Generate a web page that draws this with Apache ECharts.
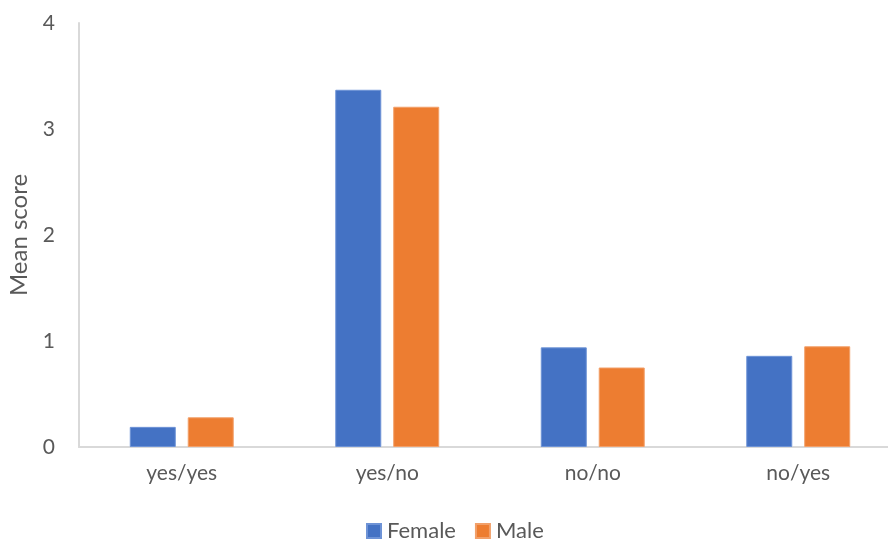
<!DOCTYPE html>
<html>
<head>
<meta charset="utf-8">
<script src="https://cdn.jsdelivr.net/npm/echarts@6/dist/echarts.min.js"></script>
<style>
  html, body { margin: 0; padding: 0; background: #fff; }
  #chart { width: 888px; height: 540px; }
</style>
</head>
<body>
<div id="chart"></div>
<script>
// Mean score by group and sex
const categories = ['yes/yes', 'yes/no', 'no/no', 'no/yes'];
const femaleValues = [0.19, 3.37, 0.94, 0.86];
const maleValues = [0.28, 3.21, 0.75, 0.95];
const yTicks = [0, 1, 2, 3, 4];

const textColor = '#595959';
const fontFamily = 'Lato, "Open Sans", sans-serif';

const chart = echarts.init(document.getElementById('chart'));
chart.setOption({
  animation: false,
  textStyle: { fontFamily: fontFamily },
  // plot area runs a little past the right edge of the canvas
  grid: { left: 79, width: 822, top: 23, height: 424, outerBoundsMode: 'none', containLabel: false },
  legend: {
    left: 361,
    top: 515,
    itemWidth: 14,
    itemHeight: 14,
    itemGap: 19,
    icon: 'rect',
    textStyle: { color: textColor, fontSize: 22, fontFamily: fontFamily, padding: [0, 0, 0, 1] },
    data: ['Female', 'Male']
  },
  xAxis: {
    type: 'category',
    data: categories,
    axisLine: { lineStyle: { color: '#D9D9D9', width: 2 } },
    axisTick: { show: false },
    axisLabel: { color: textColor, fontSize: 21, margin: 16 }
  },
  yAxis: {
    type: 'value',
    min: yTicks[0],
    max: yTicks[yTicks.length - 1],
    interval: 1,
    name: 'Mean score',
    nameLocation: 'middle',
    nameGap: 48,
    nameTextStyle: { color: textColor, fontSize: 24, fontFamily: fontFamily },
    axisLine: { show: true, lineStyle: { color: '#D9D9D9', width: 2 } },
    axisTick: { show: false },
    splitLine: { show: false },
    axisLabel: { color: textColor, fontSize: 21, margin: 24 }
  },
  series: [
    {
      name: 'Female',
      type: 'bar',
      data: femaleValues,
      barWidth: 46,
      barGap: '26%',
      itemStyle: { color: '#4472C4', borderColor: '#6E93D6', borderWidth: 1 }
    },
    {
      name: 'Male',
      type: 'bar',
      data: maleValues,
      barWidth: 46,
      barGap: '26%',
      itemStyle: { color: '#ED7D31', borderColor: '#F2A06A', borderWidth: 1 }
    }
  ]
});
</script>
</body>
</html>
